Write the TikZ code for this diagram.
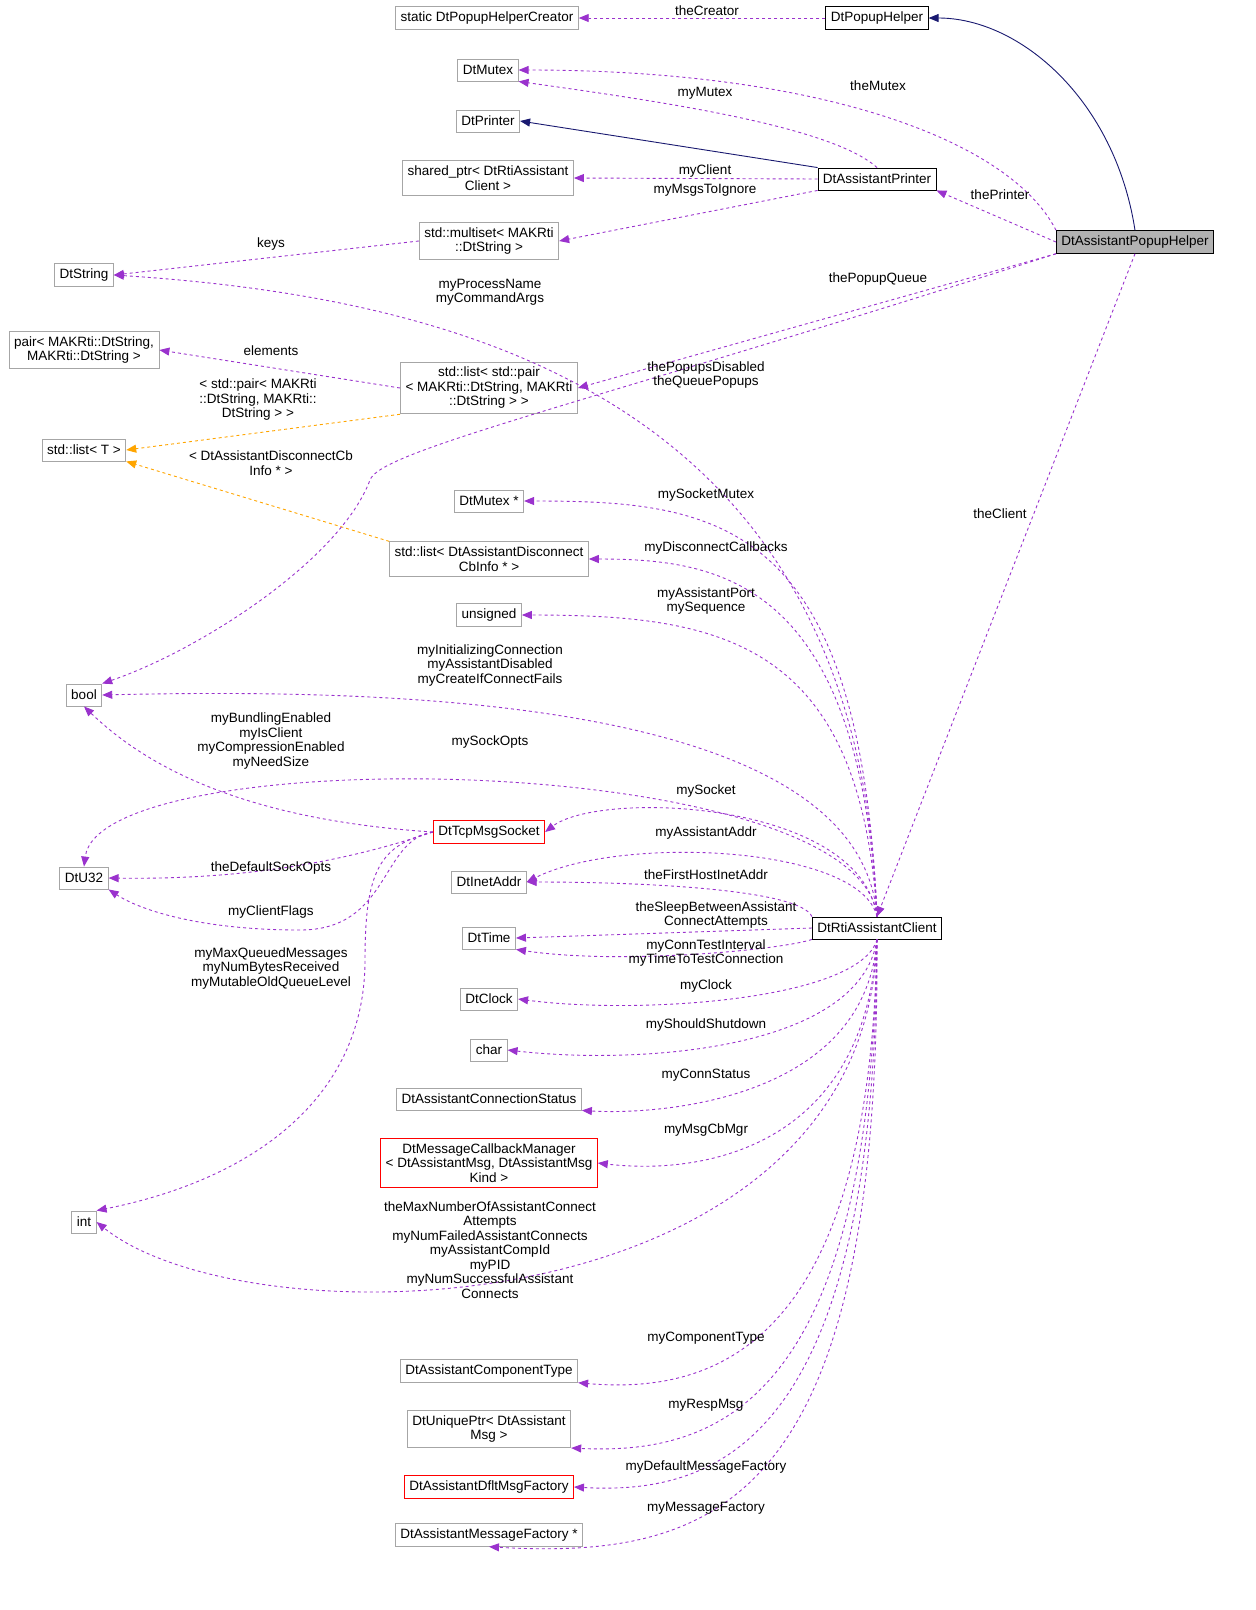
\documentclass[tikz,border=0pt]{standalone}
\usepackage{fontspec}
\setmainfont{Liberation Sans}
\usetikzlibrary{arrows.meta}
\definecolor{edgepurple}{HTML}{9A32CD}
\definecolor{edgenavy}{HTML}{191970}
\definecolor{edgeorange}{HTML}{FFA500}
\begin{document}
\begin{tikzpicture}[x=1pt, y=-1pt,
    every node/.style = {font=\fontsize{13.5}{14.5}\selectfont},
    cls/.style = {draw=gray!70, line width=0.9pt, minimum height=22pt, inner sep=5pt, align=center, fill=white},
    main/.style = {cls, draw=black},
    red/.style = {cls, draw=red},
    use/.style = {edgepurple, line width=0.9pt, dashed, -{Triangle[length=10pt,width=8pt]}},
    inh/.style = {edgenavy, line width=0.9pt, -{Triangle[length=10pt,width=8pt]}},
    tpl/.style = {edgeorange, line width=0.9pt, dashed, -{Triangle[length=10pt,width=8pt]}},
    lbl/.style = {align=center, inner sep=0pt}
                    ]
    \useasboundingbox (0,0) rectangle (1256,1610);
    % classes on the right
    \node[main] (popup) at (877,18) {DtPopupHelper};
    \node[main] (printer) at (877,179) {DtAssistantPrinter};
    \node[main, fill=gray!60] (helper) at (1135,242) {DtAssistantPopupHelper};
    \node[main] (client) at (877,928) {DtRtiAssistantClient};
    % middle column
    \node[cls] (creator) at (487,18) {static DtPopupHelperCreator};
    \node[cls] (mutex) at (488,70) {DtMutex};
    \node[cls] (printert) at (488,121) {DtPrinter};
    \node[cls] (shared) at (488,178) {shared\_ptr< DtRtiAssistant\\Client >};
    \node[cls] (multiset) at (489,241) {std::multiset< MAKRti\\::DtString >};
    \node[cls] (list) at (489,388) {std::list< std::pair\\< MAKRti::DtString, MAKRti\\::DtString > >};
    \node[cls] (mutexp) at (489,501) {DtMutex *};
    \node[cls] (disc) at (489,559) {std::list< DtAssistantDisconnect\\CbInfo * >};
    \node[cls] (unsigned) at (489,615) {unsigned};
    \node[red] (tcp) at (489,832) {DtTcpMsgSocket};
    \node[cls] (inet) at (489,882) {DtInetAddr};
    \node[cls] (time) at (489,938) {DtTime};
    \node[cls] (clock) at (489,999) {DtClock};
    \node[cls] (char) at (489,1050) {char};
    \node[cls] (connstat) at (489,1099) {DtAssistantConnectionStatus};
    \node[red] (cbmgr) at (489,1163) {DtMessageCallbackManager\\< DtAssistantMsg, DtAssistantMsg\\Kind >};
    \node[cls] (comptype) at (489,1371) {DtAssistantComponentType};
    \node[cls] (unique) at (489,1429) {DtUniquePtr< DtAssistant\\Msg >};
    \node[red] (dflt) at (489,1487) {DtAssistantDfltMsgFactory};
    \node[cls] (msgfac) at (489,1535) {DtAssistantMessageFactory *};
    % left column
    \node[cls] (dtstring) at (84,275) {DtString};
    \node[cls] (pair) at (84,350) {pair< MAKRti::DtString,\\MAKRti::DtString >};
    \node[cls] (listt) at (84,450) {std::list< T >};
    \node[cls] (bool) at (84,695) {bool};
    \node[cls] (u32) at (84,878) {DtU32};
    \node[cls] (int) at (84,1222) {int};

    % inheritance and templates
    \draw[inh] (helper.north) .. controls (1115,100) and (1020,18) .. (popup.east);
    \draw[inh] (printer.north west) -- (printert.east);
    \draw[tpl] (list.south west) -- (listt.east);
    \draw[tpl] (disc.north west) -- (listt.south east);

    % usage
    \draw[use] (popup.west) -- (creator.east);
    \draw[use] (helper.north west) .. controls (1010,140) and (820,70) .. (mutex.east);
    \draw[use] (printer.north) .. controls (830,125) and (650,100) .. (mutex.south east);
    \draw[use] (printer.west) -- (shared.east);
    \draw[use] (printer.south west) -- (multiset.east);
    \draw[use] (helper.west) -- (printer.south east);
    \draw[use] (multiset.west) -- (dtstring.east);
    \draw[use] (helper.south west) -- (list.east);
    \draw[use] (list.west) -- (pair.east);
    \draw[use] (helper.south) -- (client.north);
    \draw[use] (helper.south west) .. controls (600,400) and (380,450) .. (370,480) .. controls (340,560) and (200,650) .. (bool.north east);
    \draw[use] (client.north) .. controls (860,420) and (500,300) .. (dtstring.east);
    \draw[use] (client.north) .. controls (860,520) and (720,501) .. (mutexp.east);
    \draw[use] (client.north) .. controls (860,580) and (720,559) .. (disc.east);
    \draw[use] (client.north) .. controls (860,640) and (720,615) .. (unsigned.east);
    \draw[use] (client.north) .. controls (860,700) and (400,688) .. (bool.east);
    \draw[use] (client.north) .. controls (860,750) and (100,740) .. (u32.north);
    \draw[use] (client.north) .. controls (860,800) and (600,790) .. (tcp.east);
    \draw[use] (client.north) .. controls (860,845) and (620,835) .. (inet.east);
    \draw[use] (client.north west) .. controls (800,890) and (650,882) .. (inet.east);
    \draw[use] (client.west) -- (time.east);
    \draw[use] (client.south west) .. controls (780,950) and (620,965) .. (time.south east);
    \draw[use] (client.south) .. controls (860,1000) and (640,1015) .. (clock.east);
    \draw[use] (client.south) .. controls (860,1050) and (640,1065) .. (char.east);
    \draw[use] (client.south) .. controls (865,1100) and (660,1115) .. (connstat.south east);
    \draw[use] (client.south) .. controls (865,1150) and (700,1175) .. (cbmgr.east);
    \draw[use] (client.south) .. controls (865,1330) and (250,1345) .. (int.east);
    \draw[use] (client.south) .. controls (870,1340) and (720,1395) .. (comptype.south east);
    \draw[use] (client.south) .. controls (870,1400) and (720,1455) .. (unique.south east);
    \draw[use] (client.south) .. controls (875,1440) and (720,1495) .. (dflt.east);
    \draw[use] (client.south) .. controls (880,1500) and (720,1560) .. (msgfac.south);
    \draw[use] (tcp.west) .. controls (250,820) and (150,770) .. (bool.south);
    \draw[use] (tcp.west) .. controls (350,860) and (250,880) .. (u32.east);
    \draw[use] (tcp.west) .. controls (380,840) and (390,930) .. (300,930) .. controls (200,930) and (140,910) .. (u32.south east);
    \draw[use] (tcp.west) .. controls (380,845) and (365,870) .. (365,960) .. controls (365,1100) and (250,1180) .. (int.north east);

    % labels
    \node[lbl] (lcreator) at (707,11) {theCreator};
    \node[lbl] (lmutex) at (878,86) {theMutex};
    \node[lbl] (lmymutex) at (705,93) {myMutex};
    \node[lbl] (lclient) at (705,171) {myClient};
    \node[lbl] (lignore) at (705,190) {myMsgsToIgnore};
    \node[lbl] (lprinter) at (1000,195) {thePrinter};
    \node[lbl] (lkeys) at (271,244) {keys};
    \node[lbl] (lproc) at (490,292) {myProcessName\\myCommandArgs};
    \node[lbl] (lqueue) at (878,279) {thePopupQueue};
    \node[lbl] (lelem) at (271,351) {elements};
    \node[lbl] (lpairt) at (258,400) {< std::pair< MAKRti\\::DtString, MAKRti::\\DtString > >};
    \node[lbl] (ldisabled) at (706,375) {thePopupsDisabled\\theQueuePopups};
    \node[lbl] (ldisct) at (271,463) {< DtAssistantDisconnectCb\\Info * >};
    \node[lbl] (ltheclient) at (1000,514) {theClient};
    \node[lbl] (lsockmutex) at (706,495) {mySocketMutex};
    \node[lbl] (ldisc) at (716,548) {myDisconnectCallbacks};
    \node[lbl] (lport) at (706,601) {myAssistantPort\\mySequence};
    \node[lbl] (linit) at (490,665) {myInitializingConnection\\myAssistantDisabled\\myCreateIfConnectFails};
    \node[lbl] (lbund) at (271,741) {myBundlingEnabled\\myIsClient\\myCompressionEnabled\\myNeedSize};
    \node[lbl] (lsockopts) at (490,742) {mySockOpts};
    \node[lbl] (lsocket) at (706,791) {mySocket};
    \node[lbl] (laddr) at (706,833) {myAssistantAddr};
    \node[lbl] (lfirst) at (706,875) {theFirstHostInetAddr};
    \node[lbl] (ldefopts) at (271,868) {theDefaultSockOpts};
    \node[lbl] (lflags) at (271,912) {myClientFlags};
    \node[lbl] (lsleep) at (716,915) {theSleepBetweenAssistant\\ConnectAttempts};
    \node[lbl] (ltest) at (706,953) {myConnTestInterval\\myTimeToTestConnection};
    \node[lbl] (lqueued) at (271,968) {myMaxQueuedMessages\\myNumBytesReceived\\myMutableOldQueueLevel};
    \node[lbl] (lclock) at (706,986) {myClock};
    \node[lbl] (lshut) at (706,1025) {myShouldShutdown};
    \node[lbl] (lstat) at (706,1075) {myConnStatus};
    \node[lbl] (lcbmgr) at (706,1130) {myMsgCbMgr};
    \node[lbl] (lmax) at (490,1250) {theMaxNumberOfAssistantConnect\\Attempts\\myNumFailedAssistantConnects\\myAssistantCompId\\myPID\\myNumSuccessfulAssistant\\Connects};
    \node[lbl] (lcomp) at (706,1338) {myComponentType};
    \node[lbl] (lresp) at (706,1405) {myRespMsg};
    \node[lbl] (ldflt) at (706,1467) {myDefaultMessageFactory};
    \node[lbl] (lfac) at (706,1508) {myMessageFactory};
\end{tikzpicture}
\end{document}
